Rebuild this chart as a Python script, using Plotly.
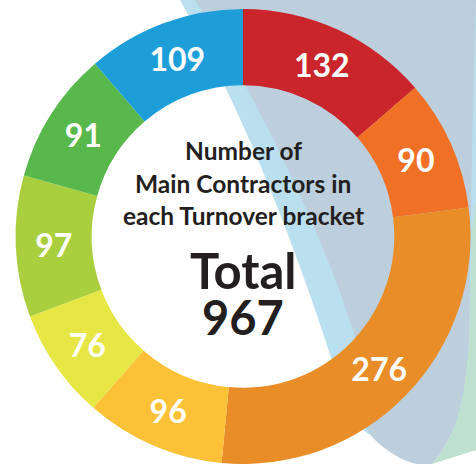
import plotly.graph_objects as go

values = [132, 90, 276, 96, 76, 97, 91, 109]
colors = ["#C9252A", "#F07125", "#E88D27", "#FCC136", "#E6E645", "#AACF3E", "#58B84C", "#1E9ED9"]
center_lines = ["Number of", "Main Contractors in", "each Turnover bracket"]
total_label = "Total"
total_value = sum(values)

W, H = 476, 464
fig = go.Figure()
fig.add_trace(go.Pie(
    values=values,
    sort=False,
    direction="clockwise",
    rotation=0,
    hole=0.665,
    marker=dict(colors=colors, line=dict(width=0)),
    textinfo="value",
    textposition="inside",
    insidetextorientation="horizontal",
    textfont=dict(family="Lato", size=32, color="white", weight="bold"),
    domain=dict(x=[15 / W, 471 / W], y=[0, 455 / H]),
    showlegend=False,
    hoverinfo="skip",
))

shapes = [
    # light blue band
    dict(type="path", layer="below", line=dict(width=0), fillcolor="#BAE0EF",
         path="M 180 0 Q 265 150 335 370 Q 350 420 368 434 L 476 434 L 476 0 Z"),
    # grey-blue leaf
    dict(type="path", layer="below", line=dict(width=0), fillcolor="#BDCEDC",
         path="M 195 0 C 260 100 330 250 356 340 C 366 385 356 415 372 437 "
              "C 392 458 418 468 432 464 C 455 440 466 400 469 340 "
              "L 472 150 L 476 0 Z"),
    # pale green
    dict(type="path", layer="below", line=dict(width=0), fillcolor="#BEE0CE",
         path="M 432 464 C 455 440 466 400 469 340 L 472 230 L 476 200 L 476 450 Z"),
]
for s in shapes:
    s.update(xref="x", yref="y")

ann = []
ys = [150, 183, 215]
for t, y in zip(center_lines, ys):
    ann.append(dict(text=t, x=243, y=y, xref="x", yref="y", showarrow=False,
                    xanchor="center", yanchor="middle",
                    font=dict(family="Lato", size=24.5, color="#231F20", weight="bold")))
ann.append(dict(text=total_label, x=243, y=270, xref="x", yref="y", showarrow=False,
                xanchor="center", yanchor="middle",
                font=dict(family="Lato", size=49, color="#231F20", weight="bold")))
ann.append(dict(text=str(total_value), x=243, y=317, xref="x", yref="y", showarrow=False,
                xanchor="center", yanchor="middle",
                font=dict(family="Lato", size=47, color="#231F20", weight="bold")))

fig.update_layout(
    width=W, height=H,
    margin=dict(l=0, r=0, t=0, b=0),
    paper_bgcolor="white", plot_bgcolor="rgba(0,0,0,0)",
    xaxis=dict(range=[0, W], visible=False, fixedrange=True),
    yaxis=dict(range=[H, 0], visible=False, fixedrange=True),
    shapes=shapes,
    annotations=ann,
)
fig.write_html("out.html", config={"displayModeBar": False},
               post_script="document.body.style.margin='0';document.body.style.overflow='hidden';")
